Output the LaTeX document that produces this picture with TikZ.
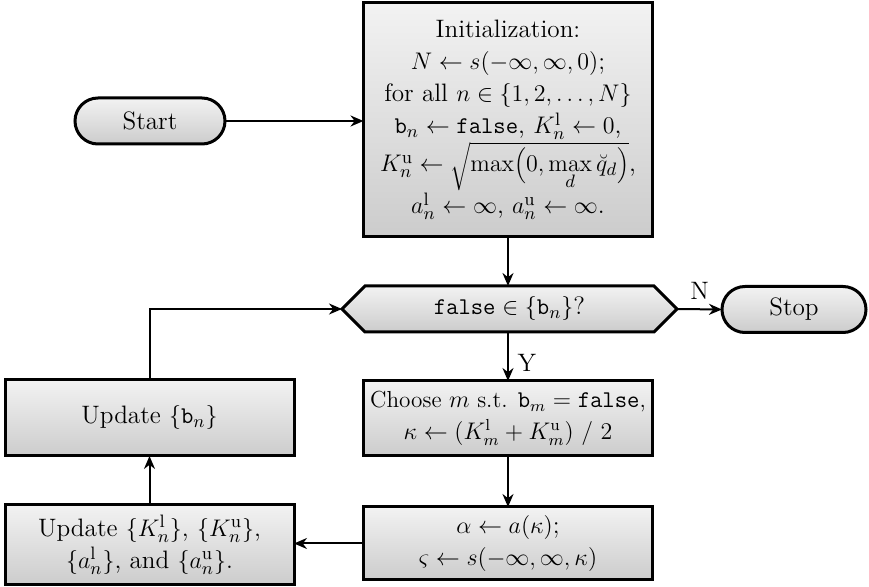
\documentclass[tikz,border=0pt]{standalone}
\usetikzlibrary{arrows.meta,shapes.symbols,shapes.misc}
\begin{document}
\begin{tikzpicture}[x=0.5pt,y=-0.5pt,
  every node/.style={font=\fontsize{12.6}{16}\selectfont},
  shadebox/.style={draw=black,line width=1.5pt,top color=white!95!black,bottom color=white!80!black,
    inner sep=0pt,outer sep=0pt,align=center},
  procbox/.style={shadebox,rectangle,minimum width=144.5pt},
  termbox/.style={shadebox,rounded rectangle,minimum width=75pt,minimum height=23pt},
  decbox/.style={shadebox,signal,signal to=west and east,signal pointer angle=90,minimum width=167.5pt,minimum height=23pt},
  flow/.style={line width=1pt,-{Stealth[length=6.5pt,width=5.5pt]}}]
\useasboundingbox (0,0) rectangle (869,587);
\node[termbox] (start) at (150,121) {Start};
\node[procbox,minimum height=117pt] (init) at (508,120) {Initialization:\\
$N \leftarrow s(-\infty,\infty,0)$;\\
for all $n\in\{1,2,\dots,N\}$\\
$\mathtt{b}_n \leftarrow \mathtt{false}$, $K^{\mathrm{l}}_n \leftarrow 0$,\\
$K^{\mathrm{u}}_n \leftarrow \displaystyle\sqrt{\max\Bigl(0,\max\limits_d \breve{q}_d\Bigr)}$,\\
$a^{\mathrm{l}}_n \leftarrow \infty$, $a^{\mathrm{u}}_n \leftarrow \infty$.};
\node[decbox] (dec) at (509.5,309) {$\mathtt{false}\in\{\mathtt{b}_n\}$?};
\node[termbox,minimum width=72pt] (stop) at (794,309.5) {Stop};
\node[procbox,minimum height=37.5pt,font=\fontsize{11.6}{16}\selectfont] (choose) at (508,418.5) {Choose $m$ s.t. $\mathtt{b}_m = \mathtt{false}$,\\
$\kappa \leftarrow (K^{\mathrm{l}}_m + K^{\mathrm{u}}_m)\ /\ 2$};
\node[procbox,minimum height=36.5pt] (alpha) at (508,543.5) {$\alpha \leftarrow a(\kappa)$;\\
$\varsigma \leftarrow s(-\infty,\infty,\kappa)$};
\node[procbox,minimum height=38pt] (updb) at (149.5,418) {Update $\{\mathtt{b}_n\}$};
\node[procbox,minimum height=40pt] (updk) at (149.5,545) {Update $\{K^{\mathrm{l}}_n\}$, $\{K^{\mathrm{u}}_n\}$,\\
$\{a^{\mathrm{l}}_n\}$, and $\{a^{\mathrm{u}}_n\}$.};
\draw[flow] (start.east) -- (init.west |- start.east);
\draw[flow] (init.south) -- (init.south |- dec.north);
\draw[flow] (dec.east) -- node[above,yshift=1pt] (nlab) {N} (stop.west);
\draw[flow] (dec.south -| choose.north) -- node[right,xshift=1pt,yshift=-3pt] (ylab) {Y} (choose.north);
\draw[flow] (choose.south) -- (alpha.north);
\draw[flow] (alpha.west) -- (alpha.west -| updk.east);
\draw[flow] (updk.north) -- (updb.south);
\draw[flow] (updb.north) |- (dec.west);
\end{tikzpicture}
\end{document}
